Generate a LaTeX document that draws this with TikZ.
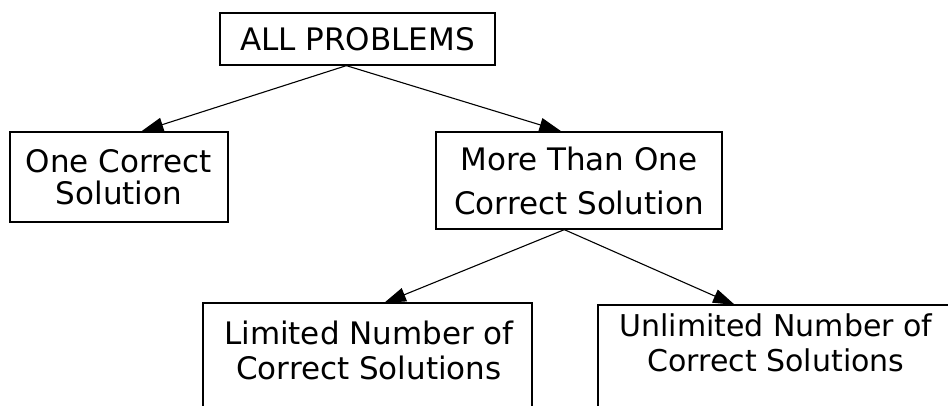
\documentclass[tikz,border=0pt]{standalone}
\usepackage{fontspec}
\setmainfont{DejaVu Sans}
\usetikzlibrary{arrows.meta}
\begin{document}
\begin{tikzpicture}[x=1pt,y=-1pt,
  box/.style={draw,line width=1.3pt,rectangle,inner sep=0pt,align=center},
  frame/.style={line width=1.3pt},
  txt/.style={inner sep=0pt,align=center},
  arr/.style={line width=1.1pt,-{Triangle[length=22pt,width=14pt]}}]
  \useasboundingbox (0,0) rectangle (948,406);
  % root
  \node[box,minimum width=275pt,minimum height=52pt,font=\fontsize{31}{38}\selectfont]
    (all) at (357.5,39) {ALL PROBLEMS};
  % second level
  \node[box,minimum width=218pt,minimum height=90pt,font=\fontsize{31}{32}\selectfont]
    (one) at (119,177) {One Correct\\Solution};
  \node[box,minimum width=286pt,minimum height=97pt,font=\fontsize{31}{44}\selectfont]
    (more) at (579,180.5) {More Than One\\Correct Solution};
  % third level: the frames run past the lower and right edges
  \coordinate (limL) at (203,406);
  \coordinate (limR) at (532,406);
  \coordinate (limTL) at (203,303);
  \coordinate (limTR) at (532,303);
  \draw[frame] (limL) -- (limTL) -- (limTR) -- (limR);
  \node[txt,font=\fontsize{31}{35}\selectfont] (limtxt) at (369,350)
    {Limited Number of\\Correct Solutions};
  \coordinate (unlL) at (598,406);
  \coordinate (unlTL) at (598,305);
  \coordinate (unlR) at (948,305);
  \draw[frame] (unlL) -- (unlTL) -- (unlR);
  \node[txt,font=\fontsize{30}{35}\selectfont] (unltxt) at (776,342.5)
    {Unlimited Number of\\Correct Solutions};
  % connectors
  \draw[arr] ([xshift=127pt]all.south west) -- ([xshift=132pt]one.north west);
  \draw[arr] ([xshift=127pt]all.south west) -- ([xshift=126pt]more.north west);
  \draw[arr] ([xshift=129pt]more.south west) -- ([xshift=181pt]limTL);
  \draw[arr] ([xshift=129pt]more.south west) -- ([xshift=137pt]unlTL);
\end{tikzpicture}
\end{document}
